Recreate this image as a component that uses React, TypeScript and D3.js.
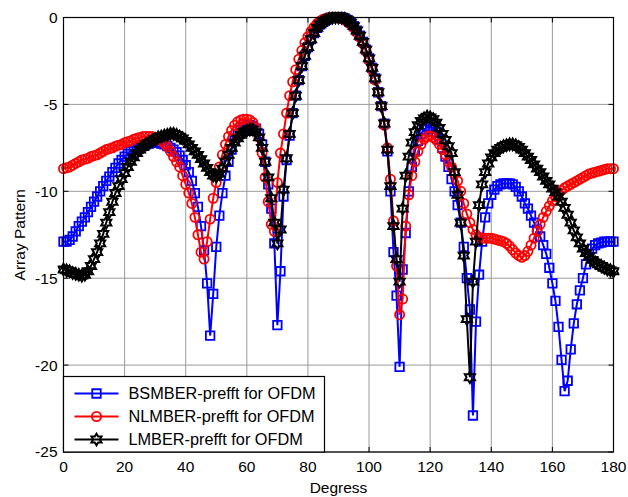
import React from 'react';
import * as d3 from 'd3';

// angle samples, one per degree
const degrees = Array.from({ length: 181 }, (_, i) => i);

const bsmber = [
  -12.9, -12.9, -12.8, -12.6, -12.3, -12.0, -11.75, -11.5, -11.2, -10.9,
  -10.6, -10.3, -10.0, -9.7, -9.4, -9.15, -8.9, -8.65, -8.4, -8.2,
  -8.0, -7.85, -7.7, -7.6, -7.5, -7.4, -7.35, -7.3, -7.25, -7.2,
  -7.2, -7.2, -7.25, -7.3, -7.4, -7.5, -7.6, -7.75, -7.95, -8.2,
  -8.5, -8.9, -9.4, -10.1, -10.9, -12.0, -13.4, -15.3, -18.3, -15.9,
  -13.2, -11.4, -10.1, -9.1, -8.3, -7.6, -7.1, -6.7, -6.45, -6.3,
  -6.2, -6.2, -6.25, -6.4, -6.7, -7.3, -8.3, -9.6, -11.0, -13.0,
  -17.7, -14.6, -10.3, -8.2, -6.8, -5.5, -4.5, -3.6, -2.8, -2.2,
  -1.7, -1.25, -0.9, -0.6, -0.4, -0.25, -0.13, -0.05, -0.01, 0,
  0, -0.01, -0.05, -0.15, -0.3, -0.5, -0.75, -1.05, -1.4, -1.85,
  -2.35, -2.9, -3.5, -4.3, -5.1, -6.1, -7.7, -10.0, -13.5, -16.0,
  -20.1, -14.5, -12.4, -10.0, -8.6, -7.7, -7.1, -6.7, -6.45, -6.3,
  -6.3, -6.4, -6.6, -7.0, -7.5, -8.0, -8.6, -9.3, -10.0, -10.8,
  -11.8, -13.2, -15.0, -16.8, -22.9, -17.5, -14.8, -12.9, -11.5, -10.7,
  -10.2, -9.9, -9.7, -9.6, -9.55, -9.55, -9.55, -9.6, -9.75, -10.0,
  -10.3, -10.7, -11.0, -11.4, -11.8, -12.2, -12.6, -13.1, -13.6, -14.4,
  -15.3, -16.3, -17.8, -19.7, -21.5, -20.9, -19.1, -17.6, -16.5, -15.7,
  -15.0, -14.2, -13.6, -13.3, -13.1, -13.0, -12.95, -12.9, -12.9, -12.9, -12.9
];

const nlmber = [
  -8.7, -8.65, -8.6, -8.5, -8.4, -8.3, -8.2, -8.15, -8.1, -8.0,
  -7.95, -7.9, -7.8, -7.7, -7.6, -7.55, -7.5, -7.4, -7.35, -7.3,
  -7.2, -7.15, -7.1, -7.0, -6.95, -6.9, -6.85, -6.85, -6.85, -6.85,
  -6.9, -7.0, -7.1, -7.25, -7.45, -7.7, -8.0, -8.3, -8.6, -9.1,
  -9.6, -10.1, -10.7, -11.5, -12.5, -13.5, -13.9, -12.9, -11.6, -10.4,
  -9.5, -8.6, -7.9, -7.3, -6.85, -6.5, -6.2, -6.0, -5.9, -5.85,
  -5.85, -5.9, -6.05, -6.35, -6.9, -7.8, -9.2, -10.6, -11.9, -12.3,
  -9.5, -7.8, -6.7, -5.5, -4.5, -3.7, -3.0, -2.4, -1.9, -1.45,
  -1.1, -0.8, -0.55, -0.35, -0.2, -0.1, -0.04, -0.01, 0, 0,
  -0.02, -0.06, -0.13, -0.25, -0.4, -0.6, -0.85, -1.15, -1.5, -1.95,
  -2.45, -3.0, -3.6, -4.3, -5.1, -6.2, -7.5, -9.3, -11.7, -14.3,
  -17.1, -16.2, -12.0, -10.2, -9.1, -8.3, -7.7, -7.3, -7.0, -6.85,
  -6.8, -6.9, -7.05, -7.3, -7.6, -7.9, -8.3, -8.6, -9.0, -9.4,
  -10.0, -10.7, -11.3, -11.8, -12.2, -12.5, -12.65, -12.7, -12.7, -12.7,
  -12.7, -12.75, -12.8, -12.85, -12.9, -13.0, -13.15, -13.35, -13.55, -13.7,
  -13.8, -13.7, -13.45, -13.1, -12.7, -12.3, -11.9, -11.5, -11.15, -10.85,
  -10.55, -10.3, -10.1, -9.95, -9.8, -9.7, -9.6, -9.5, -9.4, -9.3,
  -9.2, -9.1, -9.0, -8.95, -8.9, -8.85, -8.8, -8.75, -8.7, -8.7, -8.7
];

const lmber = [
  -14.5, -14.55, -14.6, -14.7, -14.75, -14.8, -14.85, -14.8, -14.6, -14.3,
  -13.9, -13.5, -13.0, -12.45, -11.8, -11.2, -10.6, -10.1, -9.7, -9.3,
  -8.95, -8.6, -8.3, -8.05, -7.8, -7.6, -7.45, -7.3, -7.2, -7.1,
  -7.0, -6.9, -6.85, -6.8, -6.75, -6.7, -6.7, -6.75, -6.85, -6.95,
  -7.1, -7.3, -7.5, -7.7, -7.9, -8.15, -8.4, -8.65, -8.9, -9.1,
  -9.15, -9.0, -8.7, -8.3, -7.9, -7.5, -7.2, -6.95, -6.75, -6.6,
  -6.5, -6.45, -6.45, -6.6, -6.9, -7.5, -8.3, -9.2, -10.4, -11.8,
  -13.0, -12.2, -9.9, -8.1, -6.7, -5.5, -4.5, -3.6, -2.8, -2.2,
  -1.7, -1.25, -0.9, -0.6, -0.4, -0.25, -0.13, -0.05, -0.01, 0,
  0, -0.01, -0.05, -0.15, -0.3, -0.5, -0.75, -1.05, -1.4, -1.85,
  -2.35, -2.9, -3.5, -4.3, -5.1, -6.1, -7.6, -9.7, -12.0, -13.9,
  -15.2, -11.0, -9.1, -8.0, -7.2, -6.6, -6.2, -5.95, -5.8, -5.7,
  -5.75, -5.85, -6.05, -6.35, -6.7, -7.05, -7.4, -7.8, -8.9, -10.2,
  -11.8, -13.7, -17.35, -20.7, -15.2, -12.9, -10.8, -9.6, -8.9, -8.4,
  -8.05, -7.8, -7.6, -7.5, -7.4, -7.35, -7.3, -7.3, -7.35, -7.45,
  -7.6, -7.8, -8.0, -8.2, -8.45, -8.7, -8.9, -9.15, -9.4, -9.6,
  -9.85, -10.05, -10.3, -10.6, -10.95, -11.35, -11.8, -12.25, -12.65, -13.0,
  -13.3, -13.55, -13.75, -13.95, -14.1, -14.2, -14.3, -14.4, -14.5, -14.55, -14.6
];

const seriesNames = ['BSMBER-prefft for OFDM', 'NLMBER-prefft for OFDM', 'LMBER-prefft for OFDM'];
const xTicks = [0, 20, 40, 60, 80, 100, 120, 140, 160, 180];
const yTicks = [0, -5, -10, -15, -20, -25];

const font = '"Liberation Sans", Arial, sans-serif';

// six pointed star (MATLAB 'h' marker)
const hexagram = {
  draw(ctx, size) {
    const r = Math.sqrt(size);
    const ri = r / Math.sqrt(3);
    for (let i = 0; i < 12; i++) {
      const a = (i * Math.PI) / 6 - Math.PI / 2;
      const rr = i % 2 ? ri : r;
      if (i === 0) ctx.moveTo(rr * Math.cos(a), rr * Math.sin(a));
      else ctx.lineTo(rr * Math.cos(a), rr * Math.sin(a));
    }
    ctx.closePath();
  }
};

const squarePath = d3.symbol(d3.symbolSquare, 72)();
const circlePath = d3.symbol(d3.symbolCircle, 66)();
const starPath = d3.symbol(hexagram, 34)();

const series = [
  { name: seriesNames[0], values: bsmber, color: '#0000ff', marker: squarePath, sw: 1.8 },
  { name: seriesNames[1], values: nlmber, color: '#ff0000', marker: circlePath, sw: 1.8 },
  { name: seriesNames[2], values: lmber, color: '#000000', marker: starPath, sw: 2 }
];

export default function App() {
  const width = 628;
  const height = 497;
  const left = 63.5, right = 613.5, top = 17.5, bottom = 452;

  const x = d3.scaleLinear().domain([0, 180]).range([left, right]);
  const y = d3.scaleLinear().domain([-25, 0]).range([bottom, top]);

  const line = d3.line<number>()
    .x((d, i) => x(degrees[i]))
    .y(d => y(d));

  const legX = left, legY = 376.5, legW = 261, legH = bottom - 376.5;

  return (
    <svg width={width} height={height} style={{ position: 'absolute', left: 0, top: 0, background: '#fff' }}
      fontFamily={font}>
      <rect x={0} y={0} width={width} height={height} fill="#fff" />
      <defs>
        <clipPath id="plotclip">
          <rect x={left - 6} y={top - 6} width={right - left + 12} height={bottom - top + 12} />
        </clipPath>
      </defs>

      {/* grid */}
      {xTicks.map(t => (
        <line key={'gx' + t} x1={x(t)} x2={x(t)} y1={top} y2={bottom} stroke="#9a9a9a" strokeWidth={1} />
      ))}
      {yTicks.map(t => (
        <line key={'gy' + t} x1={left} x2={right} y1={y(t)} y2={y(t)} stroke="#9a9a9a" strokeWidth={1} />
      ))}

      {/* series */}
      <g clipPath="url(#plotclip)">
        {series.map(s => (
          <g key={s.name}>
            <path d={line(s.values) || ''} fill="none" stroke={s.color} strokeWidth={2} />
            {s.values.map((v, i) => (
              <path key={i} d={s.marker} transform={`translate(${x(degrees[i])},${y(v)})`}
                fill="none" stroke={s.color} strokeWidth={s.sw} />
            ))}
          </g>
        ))}
      </g>

      {/* axes box and ticks */}
      <rect x={left} y={top} width={right - left} height={bottom - top} fill="none" stroke="#000" strokeWidth={1.2} />
      {xTicks.map(t => (
        <g key={'tx' + t}>
          <line x1={x(t)} x2={x(t)} y1={bottom} y2={bottom - 5} stroke="#000" />
          <line x1={x(t)} x2={x(t)} y1={top} y2={top + 5} stroke="#000" />
          <text x={x(t)} y={bottom + 20} textAnchor="middle" fontSize={15.5}>{t}</text>
        </g>
      ))}
      {yTicks.map(t => (
        <g key={'ty' + t}>
          <line x1={left} x2={left + 5} y1={y(t)} y2={y(t)} stroke="#000" />
          <line x1={right} x2={right - 5} y1={y(t)} y2={y(t)} stroke="#000" />
          <text x={left - 6} y={y(t)} dy="0.35em" textAnchor="end" fontSize={15.5}>{t}</text>
        </g>
      ))}

      <text x={(left + right) / 2} y={493} textAnchor="middle" fontSize={15.5}>Degress</text>
      <text transform={`translate(25,${(top + bottom) / 2}) rotate(-90)`} textAnchor="middle" fontSize={15.5}>Array Pattern</text>

      {/* legend */}
      <rect x={legX} y={legY} width={legW} height={legH} fill="#fff" stroke="#000" strokeWidth={1.2} />
      {series.map((s, i) => {
        const ly = legY + 17 + i * 23;
        return (
          <g key={'leg' + i}>
            <line x1={legX + 11} x2={legX + 55} y1={ly} y2={ly} stroke={s.color} strokeWidth={2} />
            <path d={s.marker} transform={`translate(${legX + 33},${ly})`} fill="none" stroke={s.color} strokeWidth={s.sw} />
            <text x={legX + 65} y={ly} dy="0.36em" fontSize={16.3}>{s.name}</text>
          </g>
        );
      })}
    </svg>
  );
}
